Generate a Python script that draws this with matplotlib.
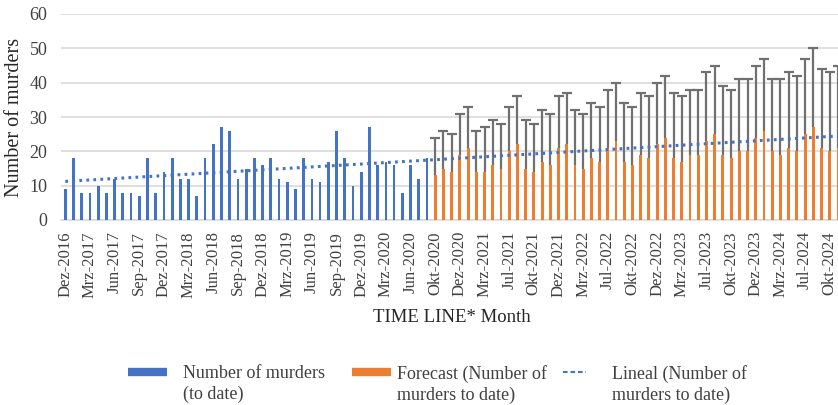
import numpy as np
import matplotlib
matplotlib.use('Agg')
import matplotlib.pyplot as plt
from matplotlib.lines import Line2D

# Number of murders (to date), one bar per period
actual = [9, 18, 8, 8, 10, 8, 12, 8, 8, 7, 18, 8, 14, 18, 12, 12, 7, 18, 22, 27,
          26, 12, 15, 18, 16, 18, 12, 11, 9, 18, 12, 11, 17, 26, 18, 10, 14, 27, 16, 17,
          16, 8, 16, 12, 18]

# Forecast values and upper confidence bound
forecast = [13, 15, 14, 19, 21, 14, 14, 16, 15, 20, 22, 15, 14, 17, 16, 21, 22, 16, 15, 18,
            17, 21, 23, 17, 16, 19, 18, 22, 24, 18, 17, 19, 19, 23, 25, 19, 18, 20, 20, 24,
            26, 20, 19, 21, 20, 25, 27, 21, 20, 21]
upper = [24, 26, 25, 31, 33, 26, 27, 29, 28, 33, 36, 29, 28, 32, 31, 36, 37, 32, 31, 34,
         33, 38, 40, 34, 33, 37, 36, 40, 42, 37, 36, 38, 38, 43, 45, 39, 38, 41, 41, 45,
         47, 41, 41, 43, 42, 47, 50, 44, 43, 45]

tick_labels = ['Dez-2016', 'Mrz-2017', 'Jun-2017', 'Sep-2017', 'Dez-2017', 'Mrz-2018',
               'Jun-2018', 'Sep-2018', 'Dez-2018', 'Mrz-2019', 'Jun-2019', 'Sep-2019',
               'Dez-2019', 'Mrz-2020', 'Jun-2020', 'Okt-2020', 'Dez-2020', 'Mrz-2021',
               'Jul-2021', 'Okt-2021', 'Dez-2021', 'Mrz-2022', 'Jul-2022', 'Okt-2022',
               'Dez-2022', 'Mrz-2023', 'Jul-2023', 'Okt-2023', 'Dez-2023', 'Mrz-2024',
               'Jul-2024', 'Okt-2024']

legend_labels = ['Number of murders\n(to date)', 'Forecast (Number of\nmurders to date)',
                 'Lineal (Number of\nmurders to date)']

BLUE = '#4472C4'
ORANGE = '#ED7D31'
GREY = '#707070'

plt.rcParams['font.family'] = ['Liberation Serif', 'DejaVu Serif']

n_act = len(actual)
n_all = n_act + len(forecast)
x_act = np.arange(n_act)
x_fc = np.arange(n_act, n_all)

W, H = 838, 405
fig = plt.figure(figsize=(W / 100, H / 100), dpi=100)
step = 8.22  # pixels per category
left_px = 61.2
ax = fig.add_axes([left_px / W, 1 - 220 / H, (n_all + 1) * step / W, 206 / H])

ax.bar(x_act, actual, width=0.33, color=BLUE, zorder=3)
ax.bar(x_fc, forecast, width=0.35, color=ORANGE, zorder=3)

# plus-only error bars up to the upper bound
ax.vlines(x_fc, forecast, upper, color=GREY, lw=1.6, zorder=4)
ax.plot(x_fc, upper, linestyle='none', marker='_', markersize=7.5,
        markeredgewidth=1.6, color=GREY, zorder=4)

# linear trend of the actual data, extended over the forecast period
coef = np.polyfit(x_act, actual, 1)
x_tr = np.arange(n_all)
ax.plot(x_tr, np.polyval(coef, x_tr), color=BLUE, lw=2.2,
        linestyle=(0, (0.9, 1.4)), zorder=5)

ax.set_xlim(-0.5, n_all + 0.5)
ax.set_ylim(0, 60)
ax.set_yticks(range(0, 61, 10))
ax.yaxis.grid(True, color='#D9D9D9', lw=1.2, zorder=0)
ax.set_axisbelow(True)
for s in ['top', 'right', 'left']:
    ax.spines[s].set_visible(False)
ax.spines['bottom'].set_color('#D9D9D9')
ax.spines['bottom'].set_linewidth(1.2)
ax.tick_params(axis='y', length=0, labelsize=13, pad=10, colors='#404040')
ax.tick_params(axis='x', length=0, labelsize=12, pad=8, colors='#404040')
ax.set_xticks(np.arange(0, 3 * len(tick_labels), 3))
ax.set_xticklabels(tick_labels, rotation=90)

fig.text(15 / W, 1 - 117 / H, 'Number of murders', rotation=90, fontsize=14.5,
         ha='center', va='center', color='#262626')
fig.text(452 / W, 1 - 318 / H, 'TIME LINE* Month', fontsize=13.5,
         ha='center', va='center', color='#262626')

# legend drawn by hand: handle aligned with the first text line, as in Excel
handle_x = [(128, 167), (352, 391), (563, 586)]
text_x = [183, 397, 612]
handle_style = [dict(color=BLUE, lw=6, solid_capstyle='butt'),
                dict(color=ORANGE, lw=6, solid_capstyle='butt'),
                dict(color=BLUE, lw=1.5, linestyle=(0, (2.2, 1.4)))]
y1 = 372
for (hx0, hx1), tx, st, lab in zip(handle_x, text_x, handle_style, legend_labels):
    fig.add_artist(Line2D([hx0 / W, hx1 / W], [1 - y1 / H, 1 - y1 / H],
                          transform=fig.transFigure, **st))
    fig.text(tx / W, 1 - (y1 - 7) / H, lab, fontsize=13, color='#404040',
             ha='left', va='top', linespacing=1.3)

fig.savefig('out.png', dpi=100)
